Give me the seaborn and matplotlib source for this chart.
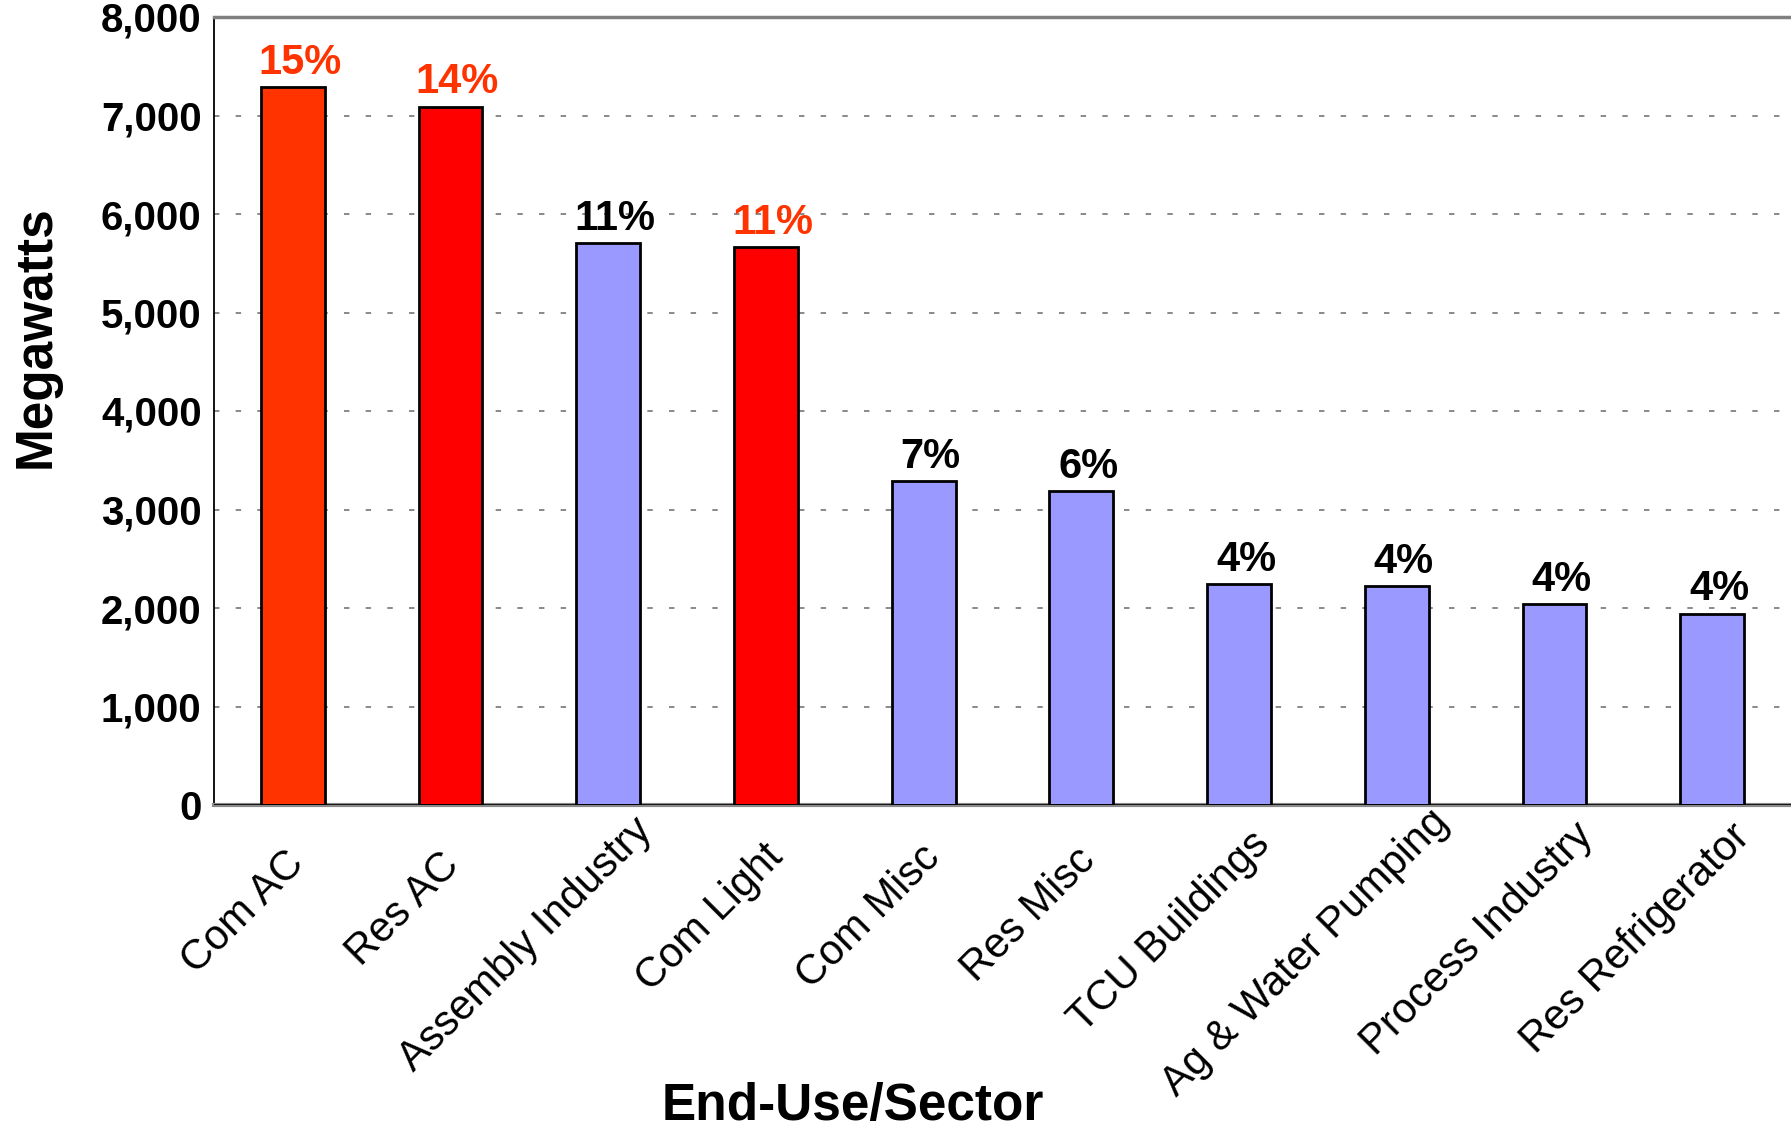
import numpy as np
import pandas as pd
import matplotlib
matplotlib.use("Agg")
import matplotlib.pyplot as plt
from matplotlib.ticker import FuncFormatter
from matplotlib.transforms import ScaledTranslation
import seaborn as sns

categories = ["Com AC", "Res AC", "Assembly Industry", "Com Light", "Com Misc",
              "Res Misc", "TCU Buildings", "Ag & Water Pumping", "Process Industry",
              "Res Refrigerator"]
megawatts = [7285, 7090, 5705, 5660, 3290, 3185, 2240, 2223, 2041, 1943]
shares = ["15%", "14%", "11%", "11%", "7%", "6%", "4%", "4%", "4%", "4%"]
bar_colors = ["#FF3300", "#FF0000", "#9999FF", "#FF0000", "#9999FF",
              "#9999FF", "#9999FF", "#9999FF", "#9999FF", "#9999FF"]
share_colors = ["#FF3300", "#FF3300", "#000000", "#FF3300", "#000000",
                "#000000", "#000000", "#000000", "#000000", "#000000"]
y_ticks = [0, 1000, 2000, 3000, 4000, 5000, 6000, 7000, 8000]

sns.set_style("white")
plt.rcParams["font.family"] = ["Liberation Sans", "DejaVu Sans"]
plt.rcParams["text.color"] = "black"
plt.rcParams["axes.labelcolor"] = "black"
plt.rcParams["xtick.color"] = "black"
plt.rcParams["ytick.color"] = "black"

W, H = 1791, 1129
fig = plt.figure(figsize=(W / 100, H / 100), dpi=100)
ax = fig.add_axes([214 / W, 1 - 805 / H, 1577 / W, 788 / H])

df = pd.DataFrame({"category": categories, "mw": megawatts})
sns.barplot(data=df, x="category", y="mw", hue="category",
            palette=dict(zip(categories, bar_colors)), saturation=1,
            width=0.405, edgecolor="black", linewidth=2.0, legend=False,
            ax=ax, zorder=3)

ax.set_xlim(-0.5, len(categories) - 0.5)
ax.set_ylim(0, 8000)

ax.set_yticks(y_ticks)
ax.yaxis.set_major_formatter(FuncFormatter(lambda v, p: f"{int(v):,}"))
ax.yaxis.grid(True, linestyle=(0, (3, 9)), color="#808080", linewidth=1.3, zorder=0)
ax.xaxis.grid(False)
ax.set_axisbelow(True)

ax.spines["right"].set_visible(False)
ax.spines["left"].set_color("black")
ax.spines["left"].set_linewidth(1.3)
ax.spines["top"].set_color("#808080")
ax.spines["top"].set_linewidth(2.5)
ax.spines["bottom"].set_color("#8a8a8a")
ax.spines["bottom"].set_linewidth(3.0)
ax.axhline(0, color="black", linewidth=1.2, zorder=4)

ax.tick_params(axis="y", which="major", length=6, width=1.2, color="black",
               direction="out", pad=3, labelsize=29, labelcolor="black")
for lab in ax.get_yticklabels():
    lab.set_fontweight("bold")

ax.set_xticks(range(len(categories)))
ax.set_xticklabels(categories, rotation=45, ha="center", va="center",
                   rotation_mode="anchor", fontsize=30, color="black")
ax.set_xticks(np.arange(-0.5, len(categories), 1.0), minor=True)
ax.tick_params(axis="x", which="major", length=0, pad=0)
ax.tick_params(axis="x", which="minor", length=9, width=1.2, color="black",
               direction="out")

for patch, txt, col in zip(ax.patches, shares, share_colors):
    cx = patch.get_x() + patch.get_width() / 2
    ax.annotate(txt, xy=(cx, patch.get_height()), xytext=(5, 3),
                textcoords="offset points", ha="center", va="bottom",
                fontsize=30, fontweight="bold", color=col, zorder=5)

ax.set_ylabel("Megawatts", fontsize=37, fontweight="bold", color="black")
ax.set_xlabel("End-Use/Sector", fontsize=37, fontweight="bold", color="black")
ax.yaxis.set_label_coords(-0.097, 0.594)
ax.xaxis.set_label_coords(0.405, -0.352)

fig.canvas.draw()
renderer = fig.canvas.get_renderer()
for i, lab in enumerate(ax.get_xticklabels()):
    bb = lab.get_window_extent(renderer)
    cx, cy = (bb.x0 + bb.x1) / 2, (bb.y0 + bb.y1) / 2
    half = bb.width / 2
    t = -44 - 0.5 * half
    dx = t + 28.5
    dy_down = 28.5 - t
    bx, by = ax.transData.transform((i, 0))
    tx, ty = bx + dx, by - dy_down
    lab.set_transform(lab.get_transform() +
                      ScaledTranslation((tx - cx) / 100, (ty - cy) / 100,
                                        fig.dpi_scale_trans))

fig.savefig("out.png", dpi=100)
